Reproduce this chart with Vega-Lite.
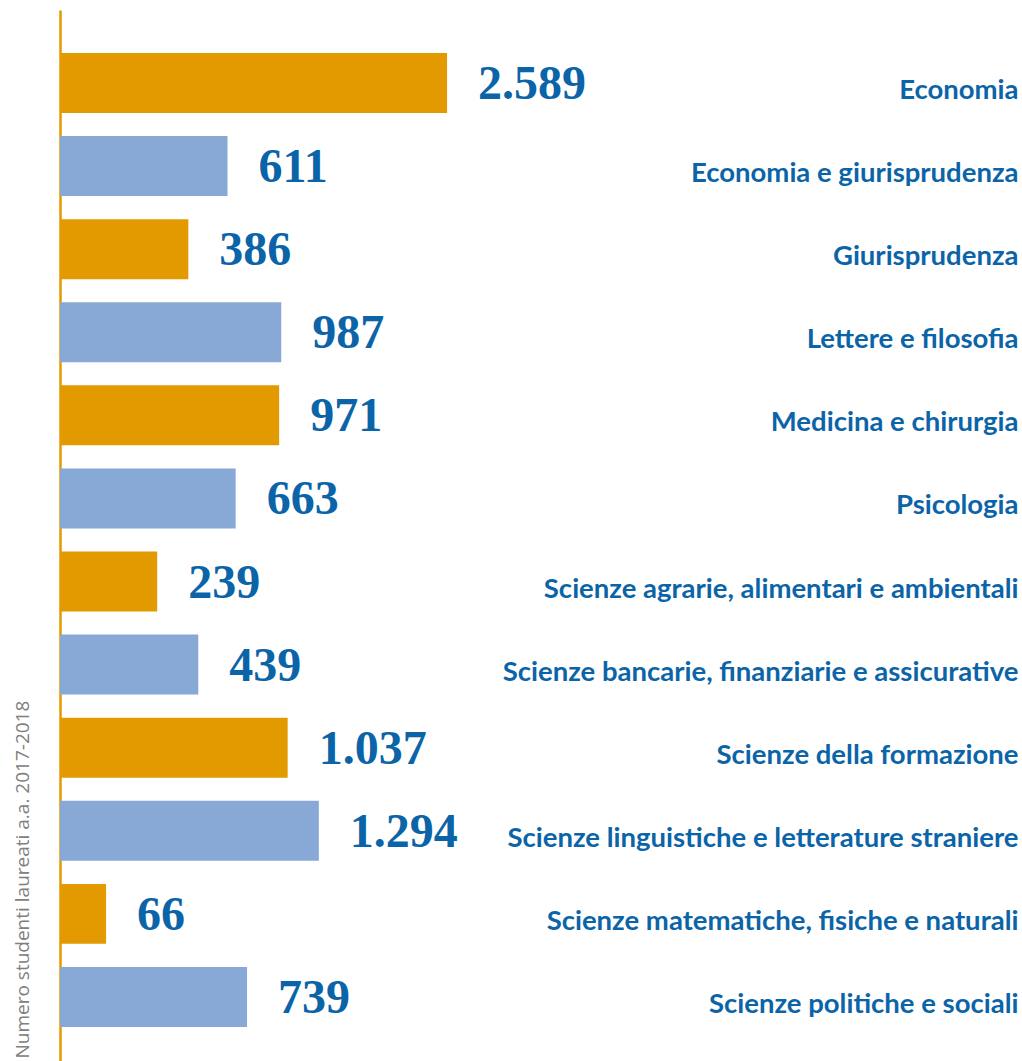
{
  "$schema": "https://vega.github.io/schema/vega-lite/v6.json",
  "autosize": {"type": "none"},
  "width": 958,
  "height": 1051,
  "padding": {"left": 60, "top": 10, "right": 4, "bottom": 0},
  "background": "white",
  "config": {"view": {"stroke": null}},
  "data": {
    "values": [
      {"corso": "Economia", "laureati": 2589, "etichetta": "2.589", "gruppo": "A"},
      {"corso": "Economia e giurisprudenza", "laureati": 611, "etichetta": "611", "gruppo": "B"},
      {"corso": "Giurisprudenza", "laureati": 386, "etichetta": "386", "gruppo": "A"},
      {"corso": "Lettere e  filosofia", "laureati": 987, "etichetta": "987", "gruppo": "B"},
      {"corso": "Medicina e chirurgia", "laureati": 971, "etichetta": "971", "gruppo": "A"},
      {"corso": "Psicologia", "laureati": 663, "etichetta": "663", "gruppo": "B"},
      {"corso": "Scienze agrarie, alimentari e ambientali", "laureati": 239, "etichetta": "239", "gruppo": "A"},
      {"corso": "Scienze bancarie, finanziarie e assicurative", "laureati": 439, "etichetta": "439", "gruppo": "B"},
      {"corso": "Scienze della formazione", "laureati": 1037, "etichetta": "1.037", "gruppo": "A"},
      {"corso": "Scienze linguistiche e letterature straniere", "laureati": 1294, "etichetta": "1.294", "gruppo": "B"},
      {"corso": "Scienze matematiche, fisiche e naturali", "laureati": 66, "etichetta": "66", "gruppo": "A"},
      {"corso": "Scienze politiche e sociali", "laureati": 739, "etichetta": "739", "gruppo": "B"}
    ]
  },
  "layer": [
    {
      "mark": {"type": "bar"},
      "encoding": {
        "y": {
          "field": "corso", "type": "nominal", "sort": null,
          "scale": {"paddingInner": 0.278, "paddingOuter": 0.4635, "align": 0.558},
          "axis": {
            "orient": "left", "labels": false, "ticks": false,
            "domain": true, "domainColor": "#E39A00", "domainWidth": 2.5,
            "title": "Numero studenti laureati a.a. 2017-2018",
            "titleFont": "Open Sans", "titleFontSize": 19, "titleFontWeight": "normal",
            "titleColor": "#808080", "titleAngle": 270, "titleAlign": "left",
            "titleBaseline": "middle", "titleX": -38, "titleY": 1048
          }
        },
        "x": {
          "field": "laureati", "type": "quantitative",
          "scale": {"type": "pow", "exponent": 0.58, "domain": [0, 2589], "range": [0, 388], "clamp": false},
          "axis": null
        },
        "color": {
          "field": "gruppo", "type": "nominal",
          "scale": {"domain": ["A", "B"], "range": ["#E39A00", "#88A9D5"]},
          "legend": null
        }
      }
    },
    {
      "mark": {"type": "text", "align": "left", "baseline": "middle", "dx": 31, "dy": 2,
               "font": "Liberation Serif", "fontSize": 48, "fontWeight": "bold", "color": "#0B64A8"},
      "encoding": {
        "y": {
          "field": "corso", "type": "nominal", "sort": null,
          "axis": {
            "orient": "right", "ticks": false, "tickSize": 0, "domain": false,
            "labelPadding": 0, "labelAlign": "right", "labelBaseline": "middle",
            "labelOffset": 8, "labelLimit": 800,
            "labelFont": "Lato", "labelFontSize": 27.5, "labelFontWeight": "bold",
            "labelColor": "#0B64A8", "title": null
          }
        },
        "x": {"field": "laureati", "type": "quantitative"},
        "text": {"field": "etichetta", "type": "nominal"}
      }
    }
  ],
  "resolve": {"axis": {"y": "independent"}}
}
